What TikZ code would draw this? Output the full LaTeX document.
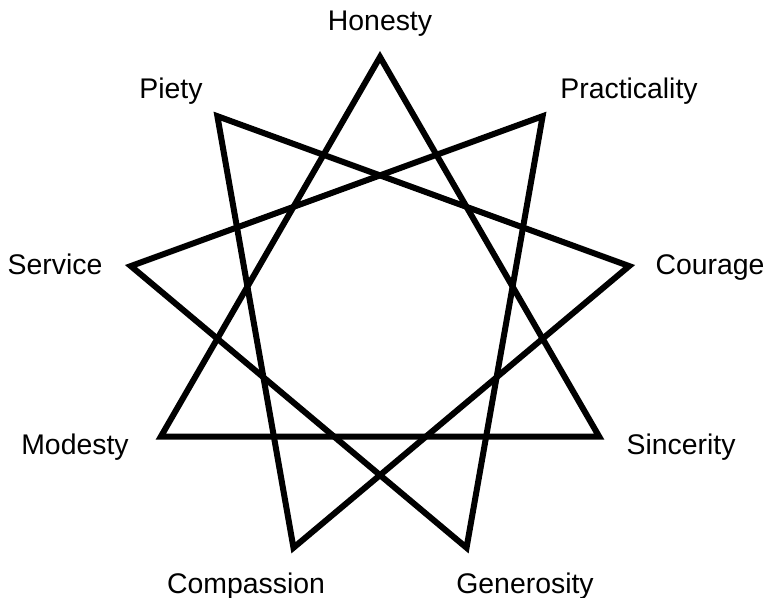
\documentclass[tikz,border=0pt]{standalone}
\usepackage{fontspec}
\setmainfont{Liberation Sans}
\usetikzlibrary{positioning}
\begin{document}
\begin{tikzpicture}[x=0.5pt,y=-0.5pt,
    virtue/.style={font=\fontsize{14.2}{16}\selectfont,inner sep=0pt,anchor=base},
    tri/.style={line width=3pt,line join=miter}]
    \useasboundingbox (0,0) rectangle (769,598); %frame
    % nine points of the star
    \foreach \v [count=\i from 0] in {ho,pr,co,si,ge,cm,mo,se,pi}
        \coordinate (\v) at ({380+253*cos(90-40*\i)},{310-253*sin(90-40*\i)});
    \draw[tri] (ho)--(si)--(mo)--cycle;
    \draw[tri] (pr)--(ge)--(se)--cycle;
    \draw[tri] (co)--(cm)--(pi)--cycle;
    % names
    \node[virtue] (honesty) at (380,31) {Honesty};
    \node[virtue] (practicality) at (629,99) {Practicality};
    \node[virtue] (courage) at (710,274) {Courage};
    \node[virtue] (sincerity) at (681,454) {Sincerity};
    \node[virtue] (generosity) at (525,593) {Generosity};
    \node[virtue] (compassion) at (246,593) {Compassion};
    \node[virtue] (modesty) at (75,454) {Modesty};
    \node[virtue] (service) at (55,274) {Service};
    \node[virtue] (piety) at (171,99) {Piety};
\end{tikzpicture}
\end{document}
